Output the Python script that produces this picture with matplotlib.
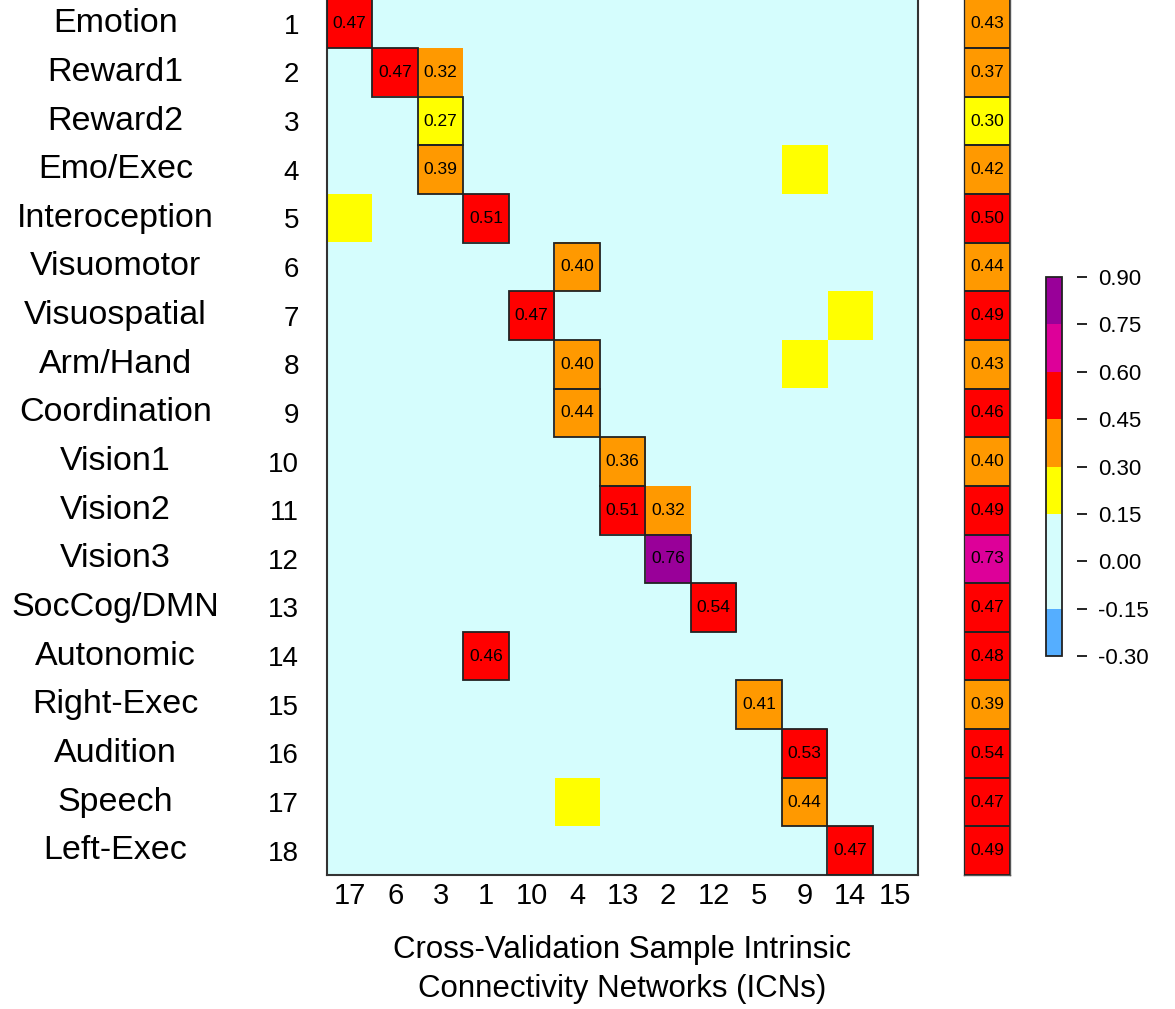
import numpy as np
import matplotlib
matplotlib.use("Agg")
import matplotlib.pyplot as plt
from matplotlib.colors import ListedColormap, BoundaryNorm
from matplotlib.patches import Rectangle

plt.rcParams['font.family'] = ['Liberation Sans', 'DejaVu Sans']

# --- data -------------------------------------------------------------
row_names = ['Emotion', 'Reward1', 'Reward2', 'Emo/Exec', 'Interoception',
             'Visuomotor', 'Visuospatial', 'Arm/Hand', 'Coordination',
             'Vision1', 'Vision2', 'Vision3', 'SocCog/DMN', 'Autonomic',
             'Right-Exec', 'Audition', 'Speech', 'Left-Exec']
row_ids = list(range(1, 19))
col_labels = ['17', '6', '3', '1', '10', '4', '13', '2', '12', '5', '9', '14', '15']

# best matching ICN (column index) for each row and its correlation
best_col = [0, 1, 2, 2, 3, 5, 4, 5, 5, 6, 6, 7, 8, 3, 9, 10, 10, 11]
best_r = [0.47, 0.47, 0.27, 0.39, 0.51, 0.40, 0.47, 0.40, 0.44,
          0.36, 0.51, 0.76, 0.54, 0.46, 0.41, 0.53, 0.44, 0.47]

# other notable matches: row, col, r, show label
extra_row = [1, 10, 3, 4, 6, 7, 16]
extra_col = [2, 7, 10, 0, 11, 10, 5]
extra_r = [0.32, 0.32, 0.22, 0.22, 0.22, 0.22, 0.22]
extra_lab = [True, True, False, False, False, False, False]

# summary column on the right
right_r = [0.43, 0.37, 0.30, 0.42, 0.50, 0.44, 0.49, 0.43, 0.46,
           0.40, 0.49, 0.73, 0.47, 0.48, 0.39, 0.54, 0.47, 0.49]

bounds = [-0.30, -0.15, 0.00, 0.15, 0.30, 0.45, 0.60, 0.75, 0.90]
colors = ['#55AEFF', '#D5FDFD', '#D5FDFD', '#FFFF00', '#FF9900',
          '#FF0000', '#DD0099', '#990099']
cmap = ListedColormap(colors)
norm = BoundaryNorm(bounds, cmap.N)
eps = 1e-6  # bins are closed on the right (0.30 -> yellow)

n_rows, n_cols = len(row_names), len(col_labels)
mat = np.zeros((n_rows, n_cols))
for i, (c, r) in enumerate(zip(best_col, best_r)):
    mat[i, c] = r
for i, c, r in zip(extra_row, extra_col, extra_r):
    mat[i, c] = r

fig = plt.figure(figsize=(11.75, 10.09), dpi=100)

# --- main heatmap -----------------------------------------------------
ax = fig.add_axes([0.2783, 0.1328, 0.503, 0.8692])
ax.imshow(mat - eps, cmap=cmap, norm=norm, aspect='auto',
          interpolation='nearest')
for i, (c, r) in enumerate(zip(best_col, best_r)):
    ax.add_patch(Rectangle((c - 0.5, i - 0.5), 1, 1, fill=False,
                           edgecolor='#222222', lw=1.3, zorder=3))
    ax.text(c, i, f'{r:.2f}', ha='center', va='center', fontsize=12.5)
for i, c, r, lab in zip(extra_row, extra_col, extra_r, extra_lab):
    if lab:
        ax.text(c, i, f'{r:.2f}', ha='center', va='center', fontsize=12.5)

ax.set_xlim(-0.5, n_cols - 0.5)
ax.set_ylim(n_rows - 0.5, -0.53)
ax.set_xticks(range(n_cols))
ax.set_xticklabels(col_labels, fontsize=21)
ax.set_yticks(range(n_rows))
ax.set_yticklabels(row_ids, fontsize=20)
ax.tick_params(axis='both', length=0)
ax.tick_params(axis='y', pad=20)
ax.tick_params(axis='x', pad=5)
for s in ax.spines.values():
    s.set_color('#333333')
    s.set_linewidth(1.5)
for i, name in enumerate(row_names):
    ax.text(-0.358, i, name, transform=ax.get_yaxis_transform(),
            ha='center', va='center', fontsize=24.5)
ax.set_xlabel('Cross-Validation Sample Intrinsic\nConnectivity Networks (ICNs)',
              fontsize=22.5, labelpad=18, linespacing=1.4)

# --- right summary column ---------------------------------------------
axr = fig.add_axes([0.8204, 0.1328, 0.0391, 0.8692])
axr.imshow(np.array(right_r)[:, None] - eps, cmap=cmap, norm=norm,
           aspect='auto', interpolation='nearest')
for i, r in enumerate(right_r):
    axr.add_patch(Rectangle((-0.5, i - 0.5), 1, 1, fill=False,
                            edgecolor='#222222', lw=1.3, zorder=3))
    axr.text(0, i, f'{r:.2f}', ha='center', va='center', fontsize=12.5)
axr.set_xlim(-0.5, 0.5)
axr.set_ylim(n_rows - 0.5, -0.53)
axr.set_xticks([])
axr.set_yticks([])
for s in axr.spines.values():
    s.set_color('#555555')
    s.set_linewidth(1.0)

# --- colour bar -------------------------------------------------------
cax = fig.add_axes([0.8902, 0.3498, 0.0136, 0.3756])
sm = matplotlib.cm.ScalarMappable(norm=norm, cmap=cmap)
cb = fig.colorbar(sm, cax=cax, boundaries=bounds, ticks=bounds)
cb.outline.set_edgecolor('#222222')
cb.outline.set_linewidth(1.3)
cax.tick_params(length=0, pad=26, labelsize=16)
cax.set_yticklabels([f'{b:.2f}' for b in bounds])
cax.plot([2.25] * len(bounds), bounds, ls='none', marker='_', ms=7,
         mew=1.2, color='black', clip_on=False,
         transform=cax.get_yaxis_transform())

fig.savefig('out.png', dpi=100)
